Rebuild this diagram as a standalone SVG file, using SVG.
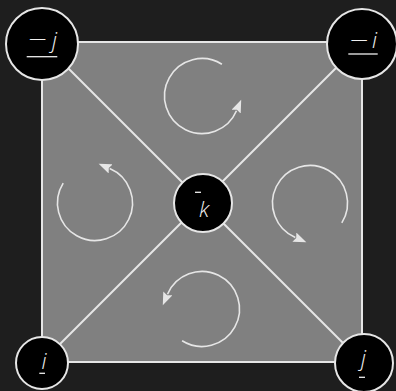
<svg xmlns="http://www.w3.org/2000/svg" width="396" height="391" viewBox="0 0 396 391">
<style>
.edge{stroke:#e6e6e6;stroke-width:2;fill:none}
.arc{stroke:#e6e6e6;stroke-width:1.6;fill:none;marker-end:url(#ah)}
.node{fill:#000;stroke:#e6e6e6;stroke-width:2}
.lbl{fill:#f0f0f0;font-family:"Open Sans","DejaVu Sans",sans-serif;font-style:italic;font-weight:300;font-size:22px}
.dec{stroke:#f0f0f0;stroke-width:1.3}
</style>
<defs>
<marker id="ah" markerUnits="userSpaceOnUse" markerWidth="14" markerHeight="10" refX="1" refY="5" orient="auto">
<path d="M0,0 L13,5 L0,10 L2,5 z" fill="#e6e6e6"/>
</marker>
</defs>
<rect width="396" height="391" fill="#1e1e1e"/>
<g id="connectors">
<rect x="42" y="42" width="320" height="320" fill="#808080" stroke="#e6e6e6" stroke-width="2"/>
<line class="edge" x1="42" y1="42" x2="362" y2="362"/>
<line class="edge" x1="362" y1="42" x2="42" y2="362"/>
<path class="arc" d="M221.9,64.2 A37.5,37.5 0 1 0 236.5,110.7"/>
<path class="arc" d="M63.2,183.1 A37.5,37.5 0 1 0 109.7,168.5"/>
<path class="arc" d="M182.1,340.8 A37.5,37.5 0 1 0 167.5,294.3"/>
<path class="arc" d="M341.8,222.9 A37.5,37.5 0 1 0 295.3,237.5"/>
</g>
<g id="node-mj">
<circle class="node" cx="42" cy="44" r="36"/>
<text class="lbl" x="28" y="47" textLength="19" lengthAdjust="spacingAndGlyphs">−</text>
<text class="lbl" x="52" y="47.5">j</text>
<line class="dec" x1="26.7" y1="56.7" x2="57.3" y2="56.7"/>
</g>
<g id="node-mi">
<circle class="node" cx="362" cy="44" r="35"/>
<text class="lbl" x="349.5" y="48" textLength="19" lengthAdjust="spacingAndGlyphs">−</text>
<text class="lbl" x="374.5" y="48.3" text-anchor="middle">i</text>
<line class="dec" x1="348.3" y1="54" x2="377.7" y2="54"/>
</g>
<g id="node-i">
<circle class="node" cx="42" cy="363" r="26"/>
<text class="lbl" x="44" y="369.3" text-anchor="middle">i</text>
<line class="dec" x1="39.3" y1="373.3" x2="45" y2="373.3"/>
</g>
<g id="node-j">
<circle class="node" cx="364" cy="363" r="29"/>
<text class="lbl" x="363.5" y="366" text-anchor="middle">j</text>
<line class="dec" x1="359" y1="377.3" x2="365" y2="377.3"/>
</g>
<g id="node-k">
<circle class="node" cx="203" cy="203" r="29"/>
<text class="lbl" x="204" y="216.5" text-anchor="middle">k</text>
<line class="dec" x1="195" y1="192.3" x2="201" y2="192.3"/>
</g>
</svg>
